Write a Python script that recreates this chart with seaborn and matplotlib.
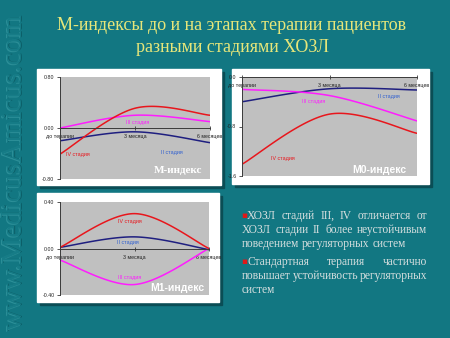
import numpy as np
import pandas as pd
import matplotlib
matplotlib.use("Agg")
import matplotlib.pyplot as plt
import seaborn as sns
from matplotlib.patches import Rectangle

# ---- data ----
months = ["до терапии", "3 месяца", "6 месяцев"]
stages = ["II стадия", "III стадия", "IV стадия"]

m_index_ii = [-0.20, -0.06, -0.23]
m_index_iii = [0.00, 0.20, 0.10]
m_index_iv = [-0.41, 0.31, 0.20]

m0_index_ii = [-0.40, -0.19, -0.21]
m0_index_iii = [-0.20, -0.30, -0.71]
m0_index_iv = [-1.41, -0.60, -0.91]

m1_index_ii = [0.01, 0.10, -0.01]
m1_index_iii = [-0.10, -0.31, 0.00]
m1_index_iv = [0.01, 0.30, 0.00]

m_ticks = ["0.80", "0.00", "-0.80"]
m0_ticks = ["0.0", "-0.8", "-1.6"]
m1_ticks = ["0.40", "0.00", "-0.40"]

title_lines = ["M-индексы до и на этапах терапии пациентов",
               "разными стадиями ХОЗЛ"]
notes = [
    ("ХОЗЛ стадий III, IV отличается от", True, True),
    ("ХОЗЛ стадии II более неустойчивым", False, True),
    ("поведением регуляторных систем", False, False),
    ("Стандартная терапия частично", True, True),
    ("повышает устойчивость регуляторных", False, True),
    ("систем", False, False),
]

# ---- style ----
W, H = 450, 338
BG = "#127782"
line_colors = {"II стадия": "#1f1f80", "III стадия": "#ff1cff", "IV стадия": "#e8161c"}
label_colors = {"II стадия": "#2f5fd0", "III стадия": "#ff1cff", "IV стадия": "#e8161c"}
TICK_FONT = "Liberation Sans"
SERIF = "Liberation Serif"

sns.set_theme(style="white")
plt.rcParams["font.family"] = ["Liberation Sans", "DejaVu Sans"]

fig = plt.figure(figsize=(W / 100, H / 100), dpi=100, facecolor=BG)


def fx(x):
    return x / W


def fy(y):
    return 1 - y / H


def rect_px(x0, y0, x1, y1):
    return [fx(x0), fy(y1), fx(x1) - fx(x0), fy(y0) - fy(y1)]


def smooth(xs, ys, n=40):
    """Cubic Bezier smoothing through the points (spreadsheet-style smoothed line)."""
    pts = np.column_stack([xs, ys]).astype(float)
    ext = np.vstack([pts[0], pts, pts[-1]])
    out = []
    t = np.linspace(0, 1, n)[:, None]
    for i in range(len(pts) - 1):
        p0, p1, p2, p3 = ext[i], ext[i + 1], ext[i + 2], ext[i + 3]
        c1 = p1 + (p2 - p0) / 6
        c2 = p2 - (p3 - p1) / 6
        seg = (1 - t) ** 3 * p1 + 3 * (1 - t) ** 2 * t * c1 + 3 * (1 - t) * t ** 2 * c2 + t ** 3 * p2
        out.append(seg if i == 0 else seg[1:])
    return np.vstack(out)


# embossed watermark along the left edge
for dx, dy, col in [(0.7, -0.7, "#0c5f68"), (-0.7, 0.7, "#2c8f98"), (0, 0, "#167c87")]:
    fig.text(fx(15 + dx), fy(172 + dy), "www.MedicusAmicus.com", rotation=90,
             ha="center", va="center", fontsize=21, family=SERIF, color=col)

# title
for i, line in enumerate(title_lines):
    fig.text(fx(232), fy(25 + 23 * i), line, ha="center", va="center",
             fontsize=13, family=SERIF, color="#e6e67a")


def panel(card, area, series, ylim, tick_vals, tick_labels, text_pos, name, name_pos, name_font):
    x0, y0, x1, y1 = card
    fig.patches.append(Rectangle((fx(x0 + 2.5), fy(y1 + 2.5)), fx(x1 - x0), fy(y0) - fy(y1),
                                 transform=fig.transFigure, color="#0a4d55", zorder=0))
    fig.patches.append(Rectangle((fx(x0), fy(y1)), fx(x1 - x0), fy(y0) - fy(y1),
                                 transform=fig.transFigure, color="white", zorder=1))
    ax = fig.add_axes(rect_px(*area))
    ax.set_zorder(3)
    ax.set_facecolor("#c0c0c0")
    frames = []
    for stage, vals in zip(stages, series):
        curve = smooth(range(len(months)), vals)
        frames.append(pd.DataFrame({"x": curve[:, 0], "y": curve[:, 1], "stage": stage}))
    df = pd.concat(frames, ignore_index=True)
    sns.lineplot(data=df, x="x", y="y", hue="stage", palette=line_colors, sort=False,
                 estimator=None, legend=False, ax=ax, linewidth=1.1)
    ax.set_xlim(0, len(months) - 1)
    ax.set_ylim(*ylim)
    ax.set_xlabel("")
    ax.set_ylabel("")
    ax.spines["bottom"].set_position(("data", 0))
    for s in ["top", "right"]:
        ax.spines[s].set_visible(False)
    for s in ["left", "bottom"]:
        ax.spines[s].set_color("#3a3a3a")
        ax.spines[s].set_linewidth(0.7)
    ax.set_xticks(range(len(months)))
    ax.set_xticklabels(months)
    ax.set_yticks(tick_vals)
    ax.set_yticklabels(tick_labels)
    ax.tick_params(axis="x", direction="inout", length=3, width=0.6, pad=3, color="#3a3a3a",
                   labelsize=3.8, labelcolor="#222222", bottom=True)
    ax.tick_params(axis="y", direction="out", length=2, width=0.6, pad=2, color="#3a3a3a",
                   labelsize=3.8, labelcolor="#222222", left=True)
    for lab in ax.get_xticklabels() + ax.get_yticklabels():
        lab.set_family(TICK_FONT)
    for stage, (tx, ty) in zip(stages, text_pos):
        ax.text(tx, ty, stage, fontsize=3.8, family=TICK_FONT, color=label_colors[stage],
                ha="center", va="center")
    ax.text(name_pos[0], name_pos[1], name, transform=ax.transAxes, ha="right", va="center",
            color="white", **name_font)
    return ax


serif_name = dict(fontsize=8, family=SERIF, fontweight="bold")
sans_name = dict(fontsize=7.5, family=TICK_FONT, fontweight="bold")

panel((37, 69, 221, 185), (60, 77, 210, 179),
      [m_index_ii, m_index_iii, m_index_iv], (-0.8, 0.8), [0.8, 0.0, -0.8], m_ticks,
      [(1.49, -0.38), (1.03, 0.094), (0.24, -0.42)],
      "M-индекс", (0.95, 0.08), serif_name)

panel((232, 69, 429, 184), (242, 77, 417, 176),
      [m0_index_ii, m0_index_iii, m0_index_iv], (-1.6, 0.0), [0.0, -0.8, -1.6], m0_ticks,
      [(1.68, -0.32), (0.82, -0.40), (0.47, -1.32)],
      "M0-индекс", (0.94, 0.06), sans_name)

panel((37, 193, 219, 302), (60, 202, 209, 295),
      [m1_index_ii, m1_index_iii, m1_index_iv], (-0.4, 0.4), [0.4, 0.0, -0.4], m1_ticks,
      [(0.91, 0.055), (0.94, -0.25), (0.94, 0.23)],
      "M1-индекс", (0.97, 0.075), sans_name)

# justified bullet notes
renderer = fig.canvas.get_renderer()
left, right = 242, 427
ys = [216, 230, 244, 262, 276, 290]
note_style = dict(fontsize=8.3, family=SERIF, color="#d6dfdf", va="center", ha="left")
for (text, bullet, justify), y in zip(notes, ys):
    start = left
    if bullet:
        fig.text(fx(left - 1), fy(y), "▪", color="#e01818", fontsize=6.5, family="DejaVu Sans",
                 va="center", ha="left")
        start = left + 5
    words = text.split()
    objs = [fig.text(0, fy(y), w, **note_style) for w in words]
    widths = [o.get_window_extent(renderer).width for o in objs]
    space = objs[0].get_fontsize() * 100 / 72 * 0.25
    if justify and len(words) > 1:
        gap = (right - start - sum(widths)) / (len(words) - 1)
    else:
        gap = space
    x = start
    for o, w in zip(objs, widths):
        o.set_x(fx(x))
        x += w + gap

fig.savefig("out.png", dpi=100, facecolor=BG)
